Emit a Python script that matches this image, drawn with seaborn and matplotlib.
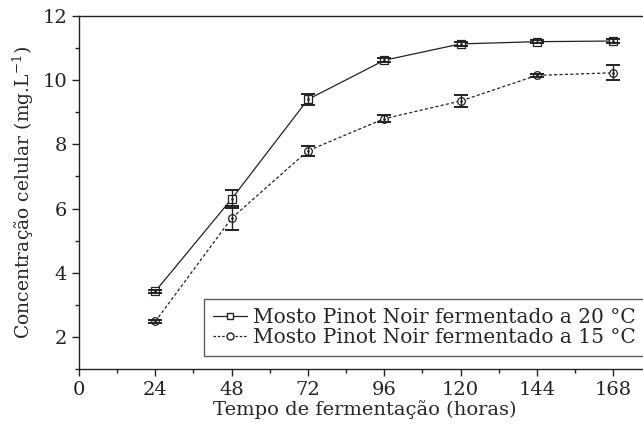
import numpy as np
import pandas as pd
import seaborn as sns
import matplotlib.pyplot as plt
from matplotlib.ticker import MultipleLocator

# tempo de fermentação (horas)
horas = [24, 48, 72, 96, 120, 144, 168]

# concentração celular, mosto a 20 °C
conc_20 = [3.42, 6.30, 9.40, 10.62, 11.13, 11.20, 11.22]
err_20 = [0.05, 0.27, 0.16, 0.06, 0.05, 0.05, 0.05]

# concentração celular, mosto a 15 °C
conc_15 = [2.48, 5.70, 7.80, 8.80, 9.35, 10.15, 10.23]
err_15 = [0.05, 0.37, 0.15, 0.10, 0.18, 0.05, 0.23]

lab_20 = 'Mosto Pinot Noir fermentado a 20 °C'
lab_15 = 'Mosto Pinot Noir fermentado a 15 °C'

df = pd.DataFrame({
    'horas': horas + horas,
    'conc': conc_20 + conc_15,
    'err': err_20 + err_15,
    'amostra': [lab_20] * len(horas) + [lab_15] * len(horas),
})

sns.set_style('ticks')
plt.rcParams['font.family'] = ['DejaVu Serif']
plt.rcParams['mathtext.fontset'] = 'dejavuserif'

fig = plt.figure(figsize=(6.43, 4.29), dpi=100)
ax = fig.add_axes([0.1229, 0.1399, 0.890, 0.8228])

sns.lineplot(data=df, x='horas', y='conc', style='amostra', markers={lab_20: 's', lab_15: 'o'},
             dashes={lab_20: '', lab_15: (2.5, 1.8)}, color='#222222', lw=0.9,
             markersize=5.5, markerfacecolor='white', markeredgecolor='#222222',
             markeredgewidth=0.9, ax=ax, legend=False)

# error bars and the small dot inside each marker
for lab in [lab_20, lab_15]:
    d = df[df['amostra'] == lab]
    ax.errorbar(d['horas'], d['conc'], yerr=d['err'], fmt='none', ecolor='#222222',
                elinewidth=1.0, capsize=5, capthick=1.4, zorder=3)
    ax.plot(d['horas'], d['conc'], ls='none', marker='.', ms=1.8, color='#222222', zorder=4)

# legend handles
h20, = ax.plot([], [], color='#222222', lw=0.9, marker='s', ms=5, mfc='white', mec='#222222')
h15, = ax.plot([], [], color='#222222', lw=0.9, ls=(0, (2, 1.5)), marker='o', ms=5,
               mfc='white', mec='#222222')
leg = ax.legend([h20, h15], [lab_20, lab_15], loc='lower right', bbox_to_anchor=(1.0, 0.02),
                fontsize=14.5, frameon=True, fancybox=False, edgecolor='#333333',
                handlelength=1.7, handletextpad=0.3, borderpad=0.45, labelspacing=0.05,
                borderaxespad=0.3)
leg.get_frame().set_linewidth(1.0)

ax.set_xlim(0, 180)
ax.set_ylim(1, 12)
ax.xaxis.set_major_locator(MultipleLocator(24))
ax.xaxis.set_minor_locator(MultipleLocator(12))
ax.yaxis.set_major_locator(MultipleLocator(2))
ax.yaxis.set_minor_locator(MultipleLocator(1))
ax.tick_params(which='both', direction='out', colors='#222222', labelsize=14, width=1.0)
ax.tick_params(which='major', length=5)
ax.tick_params(which='minor', length=3)
for s in ax.spines.values():
    s.set_color('#222222')
    s.set_linewidth(1.0)

ax.set_xlabel('Tempo de fermentação (horas)', fontsize=14, labelpad=1)
ax.set_ylabel('Concentração celular (mg.L$^{-1}$)', fontsize=13.5, labelpad=5)

fig.savefig('out.png', dpi=100)
